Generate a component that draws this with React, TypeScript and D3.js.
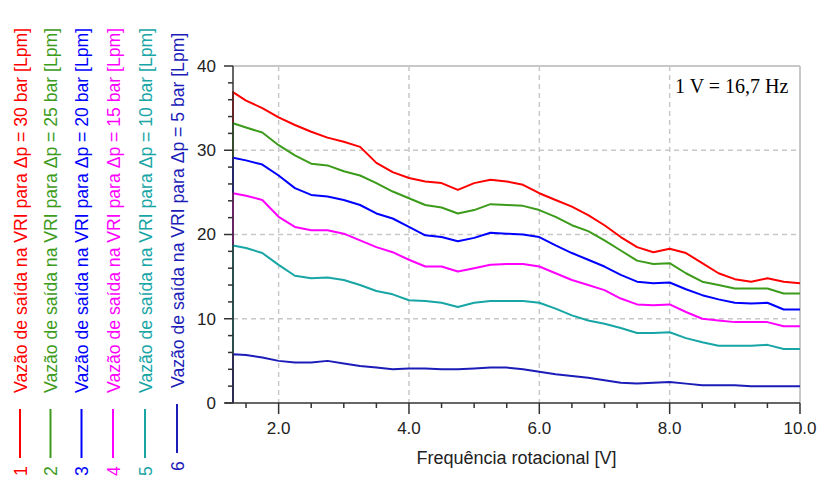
import React from "react";
import * as d3 from "d3";

const W = 820;
const H = 477;

const xValues = [1.3, 1.5, 1.75, 2.0, 2.25, 2.5, 2.75, 3.0, 3.25, 3.5, 3.75, 4.0, 4.25, 4.5, 4.75, 5.0, 5.25, 5.5, 5.75, 6.0, 6.25, 6.5, 6.75, 7.0, 7.25, 7.5, 7.75, 8.0, 8.25, 8.5, 8.75, 9.0, 9.25, 9.5, 9.75, 10.0];

const serie30 = [36.9, 35.9, 35.0, 33.9, 33.0, 32.2, 31.5, 31.0, 30.4, 28.5, 27.4, 26.7, 26.3, 26.1, 25.3, 26.1, 26.5, 26.3, 25.9, 24.9, 24.1, 23.3, 22.3, 21.1, 19.7, 18.5, 17.9, 18.3, 17.8, 16.6, 15.4, 14.7, 14.4, 14.8, 14.4, 14.2];
const serie25 = [33.2, 32.7, 32.1, 30.6, 29.4, 28.4, 28.2, 27.5, 27.0, 26.1, 25.1, 24.3, 23.5, 23.2, 22.5, 22.9, 23.6, 23.5, 23.4, 22.9, 22.1, 21.1, 20.4, 19.3, 18.1, 16.9, 16.5, 16.6, 15.4, 14.4, 14.0, 13.6, 13.6, 13.6, 13.0, 13.0];
const serie20 = [29.1, 28.8, 28.3, 27.0, 25.5, 24.7, 24.5, 24.1, 23.5, 22.5, 21.9, 20.9, 19.9, 19.7, 19.2, 19.6, 20.2, 20.1, 20.0, 19.7, 18.7, 17.8, 17.0, 16.2, 15.2, 14.4, 14.2, 14.3, 13.5, 12.8, 12.3, 11.9, 11.8, 11.9, 11.1, 11.1];
const serie15 = [24.9, 24.6, 24.1, 22.1, 20.9, 20.5, 20.5, 20.1, 19.3, 18.5, 17.9, 17.0, 16.2, 16.2, 15.6, 16.0, 16.4, 16.5, 16.5, 16.2, 15.4, 14.6, 14.0, 13.4, 12.4, 11.7, 11.6, 11.7, 10.8, 10.0, 9.8, 9.6, 9.6, 9.6, 9.1, 9.1];
const serie10 = [18.7, 18.4, 17.8, 16.4, 15.1, 14.8, 14.9, 14.6, 14.0, 13.3, 12.9, 12.2, 12.1, 11.9, 11.4, 11.9, 12.1, 12.1, 12.1, 11.9, 11.2, 10.4, 9.8, 9.4, 8.9, 8.3, 8.3, 8.4, 7.7, 7.2, 6.8, 6.8, 6.8, 6.9, 6.4, 6.4];
const serie5 = [5.8, 5.7, 5.4, 5.0, 4.8, 4.8, 5.0, 4.7, 4.4, 4.2, 4.0, 4.1, 4.1, 4.0, 4.0, 4.1, 4.2, 4.2, 4.0, 3.7, 3.4, 3.2, 3.0, 2.7, 2.4, 2.3, 2.4, 2.5, 2.3, 2.1, 2.1, 2.1, 2.0, 2.0, 2.0, 2.0];

const seriesValues = [serie30, serie25, serie20, serie15, serie10, serie5];
const seriesNumbers = ["1", "2", "3", "4", "5", "6"];
const seriesLabels = [
  "Vazão de saída na VRI para Δp = 30 bar [Lpm]",
  "Vazão de saída na VRI para Δp = 25 bar [Lpm]",
  "Vazão de saída na VRI para Δp = 20 bar [Lpm]",
  "Vazão de saída na VRI para Δp = 15 bar [Lpm]",
  "Vazão de saída na VRI para Δp = 10 bar [Lpm]",
  "Vazão de saída na VRI para Δp = 5 bar [Lpm]",
];
const seriesColors = ["#ff0000", "#3d9b1b", "#0000ff", "#ff00ff", "#17a5a5", "#1c1cb8"];

const xMajorTicks = [2, 4, 6, 8, 10];
const xMinorTicks = [1.5, 2.5, 3, 3.5, 4.5, 5, 5.5, 6.5, 7, 7.5, 8.5, 9, 9.5];
const yMajorTicks = [0, 10, 20, 30, 40];
const yMinorTicks = [2, 4, 6, 8, 12, 14, 16, 18, 22, 24, 26, 28, 32, 34, 36, 38];

const xTitle = "Frequência rotacional [V]";
const note = "1 V = 16,7 Hz";

const left = 233;
const right = 800;
const top = 66;
const bottom = 403;

export default function App() {
  const x = d3.scaleLinear().domain([1.3, 10]).range([left, right]);
  const y = d3.scaleLinear().domain([0, 40]).range([bottom, top]);
  const line = d3
    .line<[number, number]>()
    .x((d) => x(d[0]))
    .y((d) => y(d[1]));

  const sans = "'Liberation Sans', Arial, sans-serif";
  const axisColor = "#333";
  const gridColor = "#c8c8c8";
  const legendX = [20, 50.5, 81.5, 113, 145, 177];

  return (
    <svg
      width={W}
      height={H}
      style={{ position: "absolute", left: 0, top: 0, background: "#fff" }}
    >
      <rect x={0} y={0} width={W} height={H} fill="#fff" />
      {/* grid */}
      {xMajorTicks.filter((t) => t < 10).map((t) => (
        <line key={"gx" + t} x1={x(t)} x2={x(t)} y1={top} y2={bottom} stroke={gridColor} strokeWidth={1.5} strokeDasharray="5,4" />
      ))}
      {yMajorTicks.filter((t) => t > 0 && t < 40).map((t) => (
        <line key={"gy" + t} x1={left} x2={right} y1={y(t)} y2={y(t)} stroke={gridColor} strokeWidth={1.5} strokeDasharray="5,4" />
      ))}
      <line x1={left} x2={right} y1={top} y2={top} stroke={gridColor} strokeWidth={2} />
      <line x1={right} x2={right} y1={top} y2={bottom} stroke={gridColor} strokeWidth={2} />

      {/* series */}
      {seriesValues.map((vals, i) => {
        const pts: [number, number][] = [[xValues[0], 0], ...xValues.map((xv, j) => [xv, vals[j]] as [number, number])];
        return (
          <path key={"s" + i} d={line(pts) || ""} fill="none" stroke={seriesColors[i]} strokeWidth={2} strokeLinejoin="round" />
        );
      })}

      {/* axes */}
      <line x1={left - 8} x2={right} y1={bottom} y2={bottom} stroke={axisColor} strokeWidth={1.5} />
      <line x1={left} x2={left} y1={top} y2={bottom} stroke={axisColor} strokeWidth={1.5} />
      {yMajorTicks.map((t) => (
        <g key={"yt" + t}>
          <line x1={left - 9} x2={left} y1={y(t)} y2={y(t)} stroke={axisColor} strokeWidth={1.5} />
          <text x={left - 17} y={y(t)} dy="0.35em" textAnchor="end" fontFamily={sans} fontSize={17} fill="#222">
            {t}
          </text>
        </g>
      ))}
      {yMinorTicks.map((t) => (
        <line key={"ym" + t} x1={left - 5} x2={left} y1={y(t)} y2={y(t)} stroke={axisColor} strokeWidth={1.5} />
      ))}
      {xMajorTicks.map((t) => (
        <g key={"xt" + t}>
          <line x1={x(t)} x2={x(t)} y1={bottom} y2={bottom + 11} stroke={axisColor} strokeWidth={1.5} />
          <text x={x(t)} y={bottom + 31} textAnchor="middle" fontFamily={sans} fontSize={17} fill="#222">
            {t.toFixed(1)}
          </text>
        </g>
      ))}
      {xMinorTicks.map((t) => (
        <line key={"xm" + t} x1={x(t)} x2={x(t)} y1={bottom} y2={bottom + 5} stroke={axisColor} strokeWidth={1.5} />
      ))}
      <text x={(left + right) / 2} y={464} textAnchor="middle" fontFamily={sans} fontSize={18} fill="#222">
        {xTitle}
      </text>
      <text x={675} y={93} fontFamily="'Liberation Serif', 'Times New Roman', serif" fontSize={20} fill="#000">
        {note}
      </text>

      {/* legend */}
      {seriesLabels.map((lab, i) => {
        const cx = legendX[i];
        const shift = i === 5 ? -5 : 0;
        return (
          <g key={"lg" + i}>
            <text
              transform={`translate(${cx + 6.5},${393 + shift}) rotate(-90)`}
              fontFamily={sans}
              fontSize={17.6}
              fill={seriesColors[i]}
            >
              {lab}
            </text>
            <line x1={cx} x2={cx} y1={409 + shift} y2={458 + shift} stroke={seriesColors[i]} strokeWidth={2} />
            <text
              transform={`translate(${cx + 6.5},${471 + shift}) rotate(-90)`}
              textAnchor="middle"
              fontFamily={sans}
              fontSize={17.6}
              fill={seriesColors[i]}
            >
              {seriesNumbers[i]}
            </text>
          </g>
        );
      })}
    </svg>
  );
}
